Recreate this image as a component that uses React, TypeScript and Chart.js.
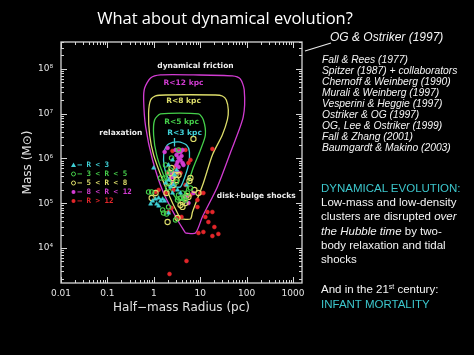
import React, { useEffect, useRef } from "react";
import { Chart, registerables } from "chart.js";

Chart.register(...registerables);

// ---------- axes ----------
const xTickValues = [0.01, 0.1, 1, 10, 100, 1000];
const xTickLabels = ["0.01", "0.1", "1", "10", "100", "1000"];
const yTickValues = [1e4, 1e5, 1e6, 1e7, 1e8];
const yTickLabels = ["10⁴", "10⁵", "10⁶", "10⁷", "10⁸"];
const xLimits = [0.01, 1560];
const yLimits = [1650, 4.0e8];

// ---------- survival envelopes (radius pc, mass Msun) ----------
const envR12R = [4.81, 3.24, 1.62, 0.94, 0.667, 0.604, 0.635, 0.853, 1.4, 7.14, 49.1, 72.9, 88.8, 84.5, 44.5, 23.4, 11.1, 7.89, 4.81];
const envR12M = [2.16e4, 4.23e4, 1.69e5, 9.25e5, 5.06e6, 2.03e7, 3.76e7, 6.29e7, 7.35e7, 7.35e7, 6.98e7, 5.98e7, 3.4e7, 8.46e6, 1.33e6, 2.31e5, 4.93e4, 2.16e4, 2.16e4];
const envR8R = [3.76, 2.53, 1.55, 0.99, 0.813, 0.772, 0.853, 1.09, 1.79, 21.2, 29.9, 36.5, 40.3, 38.4, 29.9, 18.3, 11.7, 6.8, 6.16, 3.76];
const envR8M = [4.45e4, 1.01e5, 3.31e5, 1.2e6, 3.35e6, 1.04e7, 2.03e7, 2.49e7, 2.62e7, 2.62e7, 2.49e7, 2.03e7, 1.21e7, 7.25e6, 3.35e6, 1.2e6, 2.84e5, 6.37e4, 4.45e4, 4.45e4];
const envR5R = [3.24, 2.53, 1.62, 1.15, 0.99, 1.04, 1.4, 9.15, 11.7, 12.9, 10.1, 6.8, 5.06, 4.36, 3.24];
const envR5M = [1.18e5, 1.69e5, 4.28e5, 1.2e6, 3.35e6, 7.25e6, 9.87e6, 9.87e6, 7.25e6, 3.35e6, 1.55e6, 5.53e5, 1.98e5, 1.18e5, 1.18e5];
const envR3R = [2.94, 2.29, 1.79, 1.62, 1.71, 2.08, 3.41, 5.06, 5.86, 5.58, 4.58, 3.76, 2.94];
const envR3M = [2.31e5, 2.98e5, 4.99e5, 9.25e5, 1.55e6, 2.11e6, 2.34e6, 2.0e6, 1.4e6, 7.16e5, 3.66e5, 2.31e5, 2.31e5];
const arrowR = [2.79, 2.79];
const arrowM = [2.87e6, 1.85e6];

// ---------- clusters (radius pc, mass Msun) ----------
const rLt3R = [0.99, 0.853, 0.94, 1.09, 1.27, 1.4, 1.55, 1.15, 1.27, 1.71, 2.08, 1.79, 2.08, 2.29, 2.66, 3.24, 2.53, 3.76, 2.79, 3.08, 2.08, 2.53, 5.06];
const rLt3M = [6.13e5, 9.62e4, 1.12e5, 1.24e5, 1.31e5, 1.12e5, 1.24e5, 9.62e4, 8.69e4, 1.12e5, 6.05e4, 2.84e5, 3.31e5, 2.31e5, 2.56e5, 1.98e5, 1.69e5, 1.69e5, 4.28e5, 5.53e5, 7.16e5, 9.25e5, 2.56e5];
const r3to5R = [0.898, 0.772, 1.55, 1.88, 1.71, 1.98, 1.4, 1.98, 2.08, 2.29, 3.41, 3.24, 4.15, 4.36, 4.81, 5.31, 3.76, 1.62, 2.94, 2.08, 2.41, 1.79, 3.08, 6.16, 3.41];
const r3to5M = [1.78e5, 1.78e5, 7.06e4, 5.75e4, 3.66e5, 4.74e5, 3.66e5, 2.19e5, 2.98e5, 5.53e5, 1.53e5, 1.18e5, 1.69e5, 1.31e5, 1.18e5, 1.69e5, 1.31e5, 6.05e4, 4.23e4, 8.25e4, 1.03e6, 7.16e5, 2.98e5, 2.19e5, 1.55e6];
const r5to8R = [7.14, 0.898, 1.09, 1.88, 1.98, 3.24, 4.15, 4.81, 5.58, 7.51, 5.86, 9.15, 2.66, 2.94, 2.29, 2.53, 4.15, 3.76, 6.16, 2.08, 3.08, 2.41, 3.41, 5.06];
const r5to8M = [2.73e6, 1.31e5, 1.69e5, 1.69e5, 3.81e4, 4.68e4, 8.25e4, 1.01e5, 1.38e5, 1.98e5, 3.14e5, 1.69e5, 2.56e5, 4.28e5, 4.74e5, 3.66e5, 1.07e5, 9.14e4, 3.66e5, 2.84e5, 3.31e5, 6.13e5, 4.28e5, 1.45e5];
const r8to12R = [1.98, 1.71, 2.94, 3.41, 3.76, 4.15, 3.41, 3.76, 4.15, 3.24, 4.36, 3.41, 3.08, 2.66, 2.29, 3.24, 2.66, 7.14, 5.58, 4.36, 5.06, 2.53, 2.29, 3.08, 3.95];
const r8to12M = [1.72e6, 1.4e6, 1.55e6, 1.4e6, 1.4e6, 1.55e6, 1.03e6, 9.25e5, 7.93e5, 8.35e5, 7.16e5, 6.45e5, 7.16e5, 3.86e5, 4.74e5, 4.99e5, 4.74e5, 1.69e5, 1.01e5, 1.38e5, 1.45e5, 2.84e5, 3.66e5, 1.2e6, 1.14e6];
const rGt12R = [2.53, 3.58, 4.81, 18.3, 2.94, 5.58, 6.16, 2.08, 3.76, 1.09, 1.27, 2.66, 1.79, 2.08, 2.41, 3.24, 3.95, 8.71, 10.1, 11.7, 8.71, 14.3, 18.3, 12.9, 15.0, 20.2, 11.7, 9.15, 24.6, 18.3, 5.06, 2.18, 4.81, 6.16];
const rGt12M = [1.47e6, 1.55e6, 1.55e6, 1.63e6, 6.45e5, 7.93e5, 9.25e5, 4.74e5, 4.74e5, 1.78e5, 1.98e5, 1.98e5, 1.69e5, 6.37e4, 7.83e4, 4.68e4, 4.93e4, 8.25e4, 1.69e5, 1.69e5, 1.18e5, 6.37e4, 6.37e4, 4.93e4, 3.81e4, 2.94e4, 2.28e4, 2.16e4, 2.06e4, 1.85e4, 5.13e3, 2.62e3, 2.56e5, 1.53e5];

// ---------- labels ----------
const legendLabels = ["– R < 3", "– 3 < R < 5", "– 5 < R < 8", "– 8 < R < 12", "– R > 12"];
const annotationTexts = ["dynamical friction", "R<12 kpc", "R<8 kpc", "R<5 kpc", "R<3 kpc", "relaxation", "disk+bulge shocks"];
const annotationR = [7.9, 4.36, 4.36, 3.95, 4.58, 0.194, 161];
const annotationM = [1.17e8, 4.87e7, 1.93e7, 6.55e6, 3.72e6, 3.72e6, 1.45e5];
const references = [
  "Fall & Rees (1977)",
  "Spitzer (1987) + collaborators",
  "Chernoff & Weinberg (1990)",
  "Murali & Weinberg (1997)",
  "Vesperini & Heggie (1997)",
  "Ostriker & OG (1997)",
  "OG, Lee & Ostriker (1999)",
  "Fall & Zhang (2001)",
  "Baumgardt & Makino (2003)",
];

// ---------- colours ----------
const C_CYAN = "#3fd0d6";
const C_GREEN = "#45cf4a";
const C_YELLOW = "#dede6a";
const C_MAGENTA = "#d23cd2";
const C_RED = "#e3262a";
const C_AXIS = "#d6d6d6";
const C_TEAL = "#3cc6cc";
const annotationColors = ["#eeeeee", C_MAGENTA, C_YELLOW, C_GREEN, C_CYAN, "#eeeeee", "#eeeeee"];
const legendColors = [C_CYAN, C_GREEN, C_YELLOW, C_MAGENTA, C_RED];

const pts = (r: number[], m: number[]) => r.map((v, i) => ({ x: v, y: m[i] }));

const curve = (r: number[], m: number[], color: string) => ({
  type: "scatter" as const,
  data: pts(r, m),
  showLine: true,
  borderColor: color,
  backgroundColor: color,
  borderWidth: 1.3,
  pointRadius: 0,
  tension: 0.25,
  order: 10,
});

const scatter = (r: number[], m: number[], color: string, style: string, filled: boolean, radius: number, order: number) => ({
  type: "scatter" as const,
  data: pts(r, m),
  showLine: false,
  pointStyle: style,
  pointRadius: radius,
  borderColor: color,
  backgroundColor: filled ? color : "rgba(0,0,0,0)",
  borderWidth: filled ? 0.5 : 1.1,
  order,
});

const overlayPlugin = {
  id: "overlay",
  afterDatasetsDraw(chart: any) {
    const { ctx, chartArea: a, scales } = chart;
    const xs = scales.x;
    const ys = scales.y;
    ctx.save();
    // annotations
    ctx.textAlign = "center";
    ctx.textBaseline = "middle";
    ctx.font = "bold 7.5px 'DejaVu Sans'";
    annotationTexts.forEach((t, i) => {
      ctx.fillStyle = annotationColors[i];
      ctx.fillText(t, xs.getPixelForValue(annotationR[i]), ys.getPixelForValue(annotationM[i]));
    });
    // legend
    ctx.textAlign = "left";
    ctx.font = "bold 7.5px 'DejaVu Sans Mono'";
    legendLabels.forEach((t, i) => {
      const yy = a.top + 123 + i * 9;
      const sx = a.left + 12.5;
      const col = legendColors[i];
      ctx.fillStyle = col;
      ctx.strokeStyle = col;
      ctx.lineWidth = 1;
      ctx.beginPath();
      if (i === 0) {
        ctx.moveTo(sx, yy - 2.5);
        ctx.lineTo(sx + 2.5, yy + 2);
        ctx.lineTo(sx - 2.5, yy + 2);
        ctx.closePath();
        ctx.fill();
      } else if (i < 3) {
        ctx.arc(sx, yy, 2, 0, Math.PI * 2);
        ctx.stroke();
      } else {
        ctx.arc(sx, yy, 2, 0, Math.PI * 2);
        ctx.fill();
      }
      ctx.fillText(t, sx + 4, yy + 0.5);
    });
    ctx.restore();
  },
  afterDraw(chart: any) {
    const { ctx, chartArea: a, scales } = chart;
    const xs = scales.x;
    const ys = scales.y;
    ctx.save();
    ctx.strokeStyle = C_AXIS;
    ctx.lineWidth = 1.3;
    ctx.strokeRect(a.left, a.top, a.right - a.left, a.bottom - a.top);
    ctx.lineWidth = 1;
    ctx.beginPath();
    for (let d = -3; d <= 3; d++) {
      for (let k = 1; k <= 9; k++) {
        const v = k * Math.pow(10, d);
        if (v < xLimits[0] * 0.999 || v > xLimits[1]) continue;
        const px = Math.round(xs.getPixelForValue(v)) + 0.5;
        const len = k === 1 ? 6 : 3;
        ctx.moveTo(px, a.bottom);
        ctx.lineTo(px, a.bottom - len);
        ctx.moveTo(px, a.top);
        ctx.lineTo(px, a.top + len);
      }
    }
    for (let d = 3; d <= 8; d++) {
      for (let k = 1; k <= 9; k++) {
        const v = k * Math.pow(10, d);
        if (v < yLimits[0] || v > yLimits[1]) continue;
        const py = Math.round(ys.getPixelForValue(v)) + 0.5;
        const len = k === 1 ? 6 : 3;
        ctx.moveTo(a.left, py);
        ctx.lineTo(a.left + len, py);
        ctx.moveTo(a.right, py);
        ctx.lineTo(a.right - len, py);
      }
    }
    ctx.stroke();
    // connector to reference list
    ctx.strokeStyle = "#e8e8e8";
    ctx.lineWidth = 1.2;
    ctx.beginPath();
    ctx.moveTo(305, 51);
    ctx.lineTo(331, 43);
    ctx.stroke();
    ctx.restore();
  },
};

export default function App() {
  const ref = useRef<HTMLCanvasElement>(null);
  useEffect(() => {
    const canvas = ref.current;
    if (!canvas) return;
    const chart = new Chart(canvas, {
      type: "scatter",
      data: {
        datasets: [
          curve(envR12R, envR12M, C_MAGENTA),
          curve(envR8R, envR8M, C_YELLOW),
          curve(envR5R, envR5M, C_GREEN),
          curve(envR3R, envR3M, C_CYAN),
          { ...curve(arrowR, arrowM, C_CYAN), tension: 0 },
          scatter(rGt12R, rGt12M, C_RED, "circle", true, 2, 5),
          scatter(r8to12R, r8to12M, C_MAGENTA, "circle", true, 2, 4),
          scatter(r5to8R, r5to8M, C_YELLOW, "circle", false, 2.6, 3),
          scatter(r3to5R, r3to5M, C_GREEN, "circle", false, 2.2, 2),
          scatter(rLt3R, rLt3M, C_CYAN, "triangle", true, 2.4, 1),
        ] as any,
      },
      options: {
        responsive: false,
        animation: false,
        events: [],
        layout: { padding: { left: 0, right: 172, top: 42, bottom: 0 } },
        plugins: { legend: { display: false }, tooltip: { enabled: false } },
        scales: {
          x: {
            type: "logarithmic",
            min: xLimits[0],
            max: xLimits[1],
            grid: { display: false, drawTicks: false },
            border: { display: false },
            afterBuildTicks: (s: any) => {
              s.ticks = xTickValues.map((v) => ({ value: v }));
            },
            afterFit: (s: any) => {
              s.height = 72;
            },
            ticks: {
              autoSkip: false,
              maxRotation: 0,
              minRotation: 0,
              padding: 5,
              color: "#e2e2e2",
              font: { family: "'DejaVu Sans'", size: 9 },
              callback: (_v: any, i: number) => xTickLabels[i],
            },
            title: {
              display: true,
              text: "Half−mass Radius (pc)",
              color: "#e2e2e2",
              font: { family: "'DejaVu Sans'", size: 12 },
              padding: { top: 0, bottom: 40 },
            },
          },
          y: {
            type: "logarithmic",
            min: yLimits[0],
            max: yLimits[1],
            grid: { display: false, drawTicks: false },
            border: { display: false },
            afterBuildTicks: (s: any) => {
              s.ticks = yTickValues.map((v) => ({ value: v }));
            },
            afterFit: (s: any) => {
              s.width = 61;
            },
            ticks: {
              autoSkip: false,
              padding: 8,
              color: "#e2e2e2",
              font: { family: "'DejaVu Sans'", size: 9 },
              callback: (_v: any, i: number) => yTickLabels[i],
            },
            title: {
              display: true,
              text: "Mass (M⊙)",
              color: "#e2e2e2",
              font: { family: "'DejaVu Sans'", size: 12 },
              padding: { top: 21, bottom: 0 },
            },
          },
        },
      } as any,
      plugins: [overlayPlugin],
    });
    return () => chart.destroy();
  }, []);

  const abs = (left: number, top: number, extra: any = {}) => ({
    position: "absolute" as const,
    left,
    top,
    whiteSpace: "nowrap" as const,
    color: "#f4f4f4",
    fontFamily: "'Liberation Sans', Arial, sans-serif",
    ...extra,
  });

  return (
    <div style={{ position: "fixed", left: 0, top: 0, width: 474, height: 355, background: "#000", overflow: "hidden" }}>
      <canvas ref={ref} width={474} height={355} style={{ position: "absolute", left: 0, top: 0, width: 474, height: 355 }} />
      <div style={abs(0, 8, { width: 450, textAlign: "center", fontFamily: "'Open Sans', sans-serif", fontSize: 16.5, lineHeight: "20px", color: "#ffffff" })}>
        What about dynamical evolution?
      </div>
      <div style={abs(330, 30, { fontStyle: "italic", fontSize: 12, lineHeight: "14px" })}>OG &amp; Ostriker (1997)</div>
      <div style={abs(322, 53.5, { fontStyle: "italic", fontSize: 10.3, lineHeight: "11.1px" })}>
        {references.map((r) => (
          <div key={r}>{r}</div>
        ))}
      </div>
      <div style={abs(321, 181, { fontSize: 11.5, lineHeight: "14.2px" })}>
        <div style={{ color: C_TEAL }}>DYNAMICAL EVOLUTION:</div>
        <div>Low-mass and low-density</div>
        <div>
          clusters are disrupted <i>over</i>
        </div>
        <div>
          <i>the Hubble time</i> by two-
        </div>
        <div>body relaxation and tidal</div>
        <div>shocks</div>
      </div>
      <div style={abs(321, 281.5, { fontSize: 11.5, lineHeight: "15px" })}>
        <div>
          And in the 21<sup style={{ fontSize: 7, verticalAlign: "4px", lineHeight: 0 }}>st</sup> century:
        </div>
        <div style={{ color: C_TEAL }}>INFANT MORTALITY</div>
      </div>
    </div>
  );
}
